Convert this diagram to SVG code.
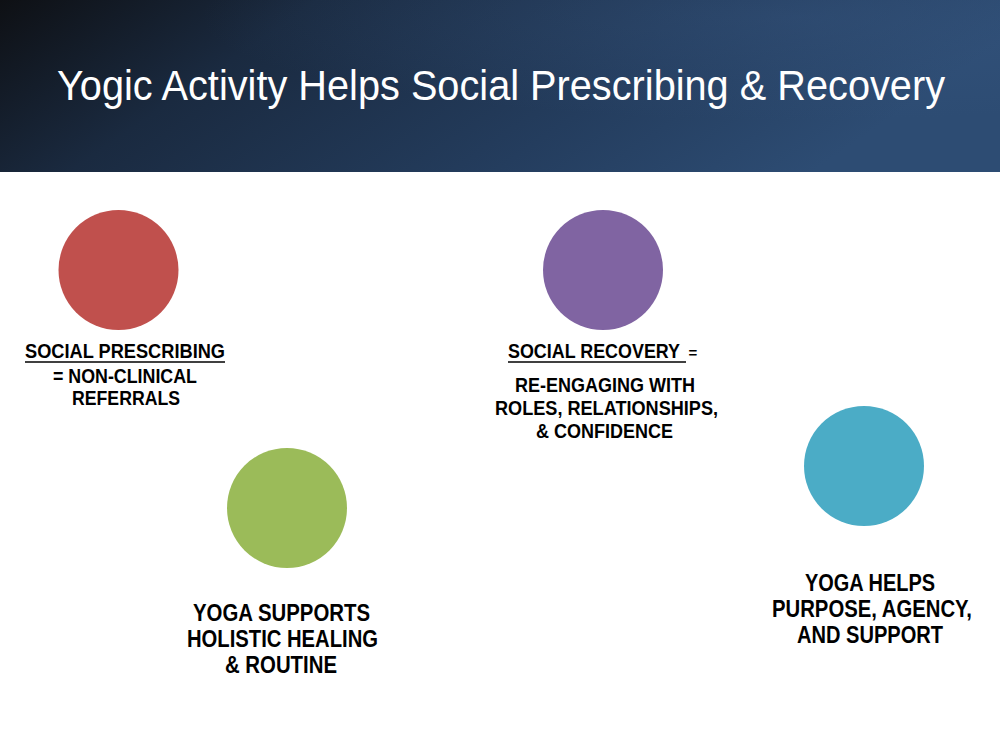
<svg xmlns="http://www.w3.org/2000/svg" width="1000" height="750" viewBox="0 0 1000 750">
  <defs>
    <linearGradient id="hdr" x1="0" y1="0" x2="1" y2="0.25">
      <stop offset="0" stop-color="#0e1014"/>
      <stop offset="0.3" stop-color="#1a2a40"/>
      <stop offset="0.7" stop-color="#243d5e"/>
      <stop offset="1" stop-color="#2d4c73"/>
    </linearGradient>
    <radialGradient id="glow" cx="0.8" cy="0.1" r="0.6">
      <stop offset="0" stop-color="#3a5a85" stop-opacity="0.35"/>
      <stop offset="1" stop-color="#3a5a85" stop-opacity="0"/>
    </radialGradient>
    <style>
      .title { font-family: "Liberation Sans", Arial, sans-serif; font-size: 43px; fill: #ffffff; }
      .lbl { font-family: "Liberation Sans", Arial, sans-serif; font-weight: bold; fill: #000000; text-anchor: middle; }
      .s { font-size: 20px; }
      .l { font-size: 24px; }
      .ul { stroke: #000000; stroke-width: 1.5; }
    </style>
  </defs>
  <rect x="0" y="0" width="1000" height="750" fill="#ffffff"/>
  <g id="header">
    <rect x="0" y="0" width="1000" height="172" fill="url(#hdr)"/>
    <rect x="0" y="0" width="1000" height="172" fill="url(#glow)"/>
    <text class="title" transform="translate(57,100) scale(0.85,1)" x="0" y="0" textLength="1044.7" lengthAdjust="spacingAndGlyphs">Yogic Activity Helps Social Prescribing &amp; Recovery</text>
  </g>
  <g id="node-social-prescribing">
    <circle cx="118.5" cy="270" r="60" fill="#C0504D"/>
    <text class="lbl s" transform="translate(125,358) scale(0.88,1)" textLength="227.3" lengthAdjust="spacingAndGlyphs">SOCIAL PRESCRIBING</text>
    <line class="ul" x1="25" y1="362" x2="225" y2="362"/>
    <text class="lbl s" transform="translate(125,383) scale(0.88,1)" textLength="163.6" lengthAdjust="spacingAndGlyphs">= NON-CLINICAL</text>
    <text class="lbl s" transform="translate(126,405) scale(0.88,1)" textLength="122.7" lengthAdjust="spacingAndGlyphs">REFERRALS</text>
  </g>
  <g id="node-social-recovery">
    <circle cx="603" cy="270" r="60" fill="#8064A2"/>
    <text class="lbl s" transform="translate(594,358) scale(0.88,1)" textLength="195.5" lengthAdjust="spacingAndGlyphs">SOCIAL RECOVERY</text>
    <text class="lbl" x="693" y="358" font-size="15">=</text>
    <line class="ul" x1="508" y1="362" x2="686" y2="362"/>
    <text class="lbl s" transform="translate(605,392) scale(0.88,1)" textLength="204.5" lengthAdjust="spacingAndGlyphs">RE-ENGAGING WITH</text>
    <text class="lbl s" transform="translate(606.5,415) scale(0.88,1)" textLength="253.4" lengthAdjust="spacingAndGlyphs">ROLES, RELATIONSHIPS,</text>
    <text class="lbl s" transform="translate(604.5,438) scale(0.88,1)" textLength="155.7" lengthAdjust="spacingAndGlyphs">&amp; CONFIDENCE</text>
  </g>
  <g id="node-yoga-supports">
    <circle cx="287" cy="508" r="60" fill="#9BBB59"/>
    <text class="lbl l" transform="translate(281.5,621) scale(0.85,1)" textLength="208.2" lengthAdjust="spacingAndGlyphs">YOGA SUPPORTS</text>
    <text class="lbl l" transform="translate(282.5,647) scale(0.85,1)" textLength="224.7" lengthAdjust="spacingAndGlyphs">HOLISTIC HEALING</text>
    <text class="lbl l" transform="translate(281,673) scale(0.85,1)" textLength="131.8" lengthAdjust="spacingAndGlyphs">&amp; ROUTINE</text>
  </g>
  <g id="node-yoga-helps">
    <circle cx="864" cy="466" r="60" fill="#4BACC6"/>
    <text class="lbl l" transform="translate(870,591) scale(0.85,1)" textLength="152.9" lengthAdjust="spacingAndGlyphs">YOGA HELPS</text>
    <text class="lbl l" transform="translate(872,617) scale(0.85,1)" textLength="235.3" lengthAdjust="spacingAndGlyphs">PURPOSE, AGENCY,</text>
    <text class="lbl l" transform="translate(870,643) scale(0.85,1)" textLength="171.8" lengthAdjust="spacingAndGlyphs">AND SUPPORT</text>
  </g>
  <g id="connectors"></g>
</svg>
